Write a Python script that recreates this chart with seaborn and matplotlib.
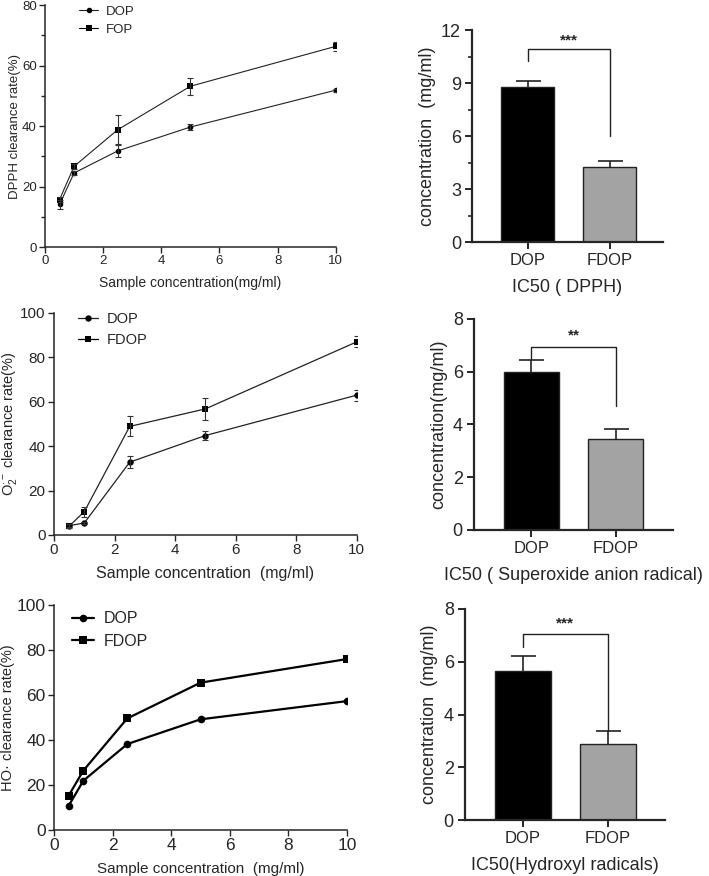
import numpy as np
import pandas as pd
import matplotlib
matplotlib.use("Agg")
import matplotlib.pyplot as plt
from matplotlib.lines import Line2D
from matplotlib.ticker import MultipleLocator
import seaborn as sns

# sample concentrations (mg/ml)
conc = [0.5, 1, 2.5, 5, 10]

# DPPH clearance rate (%)
dpph_dop = [14.1, 24.5, 31.8, 39.7, 51.9]
dpph_dop_err = [1.6, 0.8, 2.1, 1.0, 0.5]
dpph_fop = [15.7, 26.7, 38.8, 53.2, 66.4]
dpph_fop_err = [0.8, 0.8, 4.8, 2.8, 1.4]

# superoxide anion clearance rate (%)
o2_dop = [4.2, 5.4, 32.8, 44.8, 63.0]
o2_dop_err = [0.6, 0.6, 2.7, 2.2, 2.5]
o2_fdop = [4.0, 10.5, 48.9, 56.8, 87.0]
o2_fdop_err = [0.8, 2.3, 4.5, 4.9, 2.5]

# hydroxyl radical clearance rate (%)
ho_dop = [10.8, 21.9, 38.2, 49.2, 57.3]
ho_fdop = [15.3, 26.4, 49.6, 65.5, 76.0]

# IC50 values (mg/ml)
groups = ["DOP", "FDOP"]
ic50_dpph = [8.75, 4.26]
ic50_dpph_err = [0.38, 0.32]
ic50_o2 = [5.98, 3.45]
ic50_o2_err = [0.47, 0.37]
ic50_ho = [5.66, 2.88]
ic50_ho_err = [0.56, 0.51]

sns.set_theme(style="ticks")
plt.rcParams["font.family"] = ["Liberation Sans", "DejaVu Sans"]
plt.rcParams["mathtext.fontset"] = "custom"
plt.rcParams["mathtext.rm"] = "Liberation Sans"
plt.rcParams["mathtext.it"] = "Liberation Sans:italic"

fig = plt.figure(figsize=(7.09, 8.76), dpi=100)


def line_panel(rect, d1, e1, d2, e2, names, ylabel, xlabel, ymax, fs_tick, fs_lab,
               fs_ylab, fs_leg, lw, ms, cap, leg_anchor, color="#222222"):
    ax = fig.add_axes(rect)
    df = pd.DataFrame({"x": conc * 2, "y": d1 + d2,
                       "g": [names[0]] * 5 + [names[1]] * 5})
    sns.lineplot(data=df, x="x", y="y", hue="g", style="g",
                 markers={names[0]: "o", names[1]: "s"}, dashes=False,
                 palette=[color, "black"], markersize=ms, linewidth=lw,
                 markeredgewidth=0, legend=False, ax=ax)
    for ln in ax.lines:
        ln.set_markerfacecolor("black")
        ln.set_color(color)
    if e1 is not None:
        ax.errorbar(conc, d1, yerr=e1, fmt="none", ecolor="#333333",
                    elinewidth=0.8, capsize=cap, capthick=0.8)
        ax.errorbar(conc, d2, yerr=e2, fmt="none", ecolor="#333333",
                    elinewidth=0.8, capsize=cap, capthick=0.8)
    ax.set_xlim(0, 10)
    ax.set_ylim(0, ymax)
    ax.xaxis.set_major_locator(MultipleLocator(2))
    ax.yaxis.set_major_locator(MultipleLocator(20))
    ax.set_xlabel(xlabel, fontsize=fs_lab, labelpad=6)
    ax.set_ylabel(ylabel, fontsize=fs_ylab, labelpad=1)
    ax.tick_params(labelsize=fs_tick, length=4, width=1, pad=2)
    for s in ["left", "bottom"]:
        ax.spines[s].set_linewidth(1.1)
    sns.despine(ax=ax)
    handles = [Line2D([], [], color=color, lw=lw, marker="o", ms=ms, mfc="black", mew=0),
               Line2D([], [], color="black", lw=lw, marker="s", ms=ms, mfc="black", mew=0)]
    ax.legend(handles, names, loc="upper left", bbox_to_anchor=leg_anchor,
              frameon=False, fontsize=fs_leg, handlelength=1.4, handletextpad=0.6,
              labelspacing=0.45, borderaxespad=0)
    return ax


def bar_panel(rect, vals, errs, ylabel, xlabel, ymax, step, stars, br_top, br_left,
              br_right, star_y, xlim, fs_tick, fs_lab, minor=None):
    ax = fig.add_axes(rect)
    sns.barplot(x=groups, y=vals, hue=groups, palette=["black", "#a3a3a3"],
                width=0.65, edgecolor="#222222", linewidth=1.0, legend=False,
                ax=ax)
    eb = ax.errorbar([0, 1], vals, yerr=[[0, 0], errs], fmt="none", ecolor="#222222",
                     elinewidth=1.2, capsize=9, capthick=1.2)
    # keep only the upper cap
    eb[1][0].remove()
    ax.plot([0, 0, 1, 1], [br_left, br_top, br_top, br_right], color="#222222", lw=1.0)
    ax.text(0.5, star_y, stars, ha="center", va="center", fontsize=11,
            fontweight="bold")
    ax.set_xlim(*xlim)
    ax.set_ylim(0, ymax)
    ax.yaxis.set_major_locator(MultipleLocator(step))
    if minor:
        ax.yaxis.set_minor_locator(MultipleLocator(minor))
        ax.tick_params(axis="y", which="minor", length=3, width=1.2)
    ax.set_xlabel(xlabel, fontsize=fs_lab, labelpad=8)
    ax.set_ylabel(ylabel, fontsize=fs_lab, labelpad=4)
    ax.tick_params(axis="both", which="major", length=5, width=1.4, pad=3)
    ax.tick_params(axis="y", labelsize=fs_tick + 1)
    ax.tick_params(axis="x", labelsize=fs_tick)
    for s in ["left", "bottom"]:
        ax.spines[s].set_linewidth(1.6)
    sns.despine(ax=ax)
    return ax


# row 1
ax1 = line_panel([0.0635, 0.718, 0.41, 0.276], dpph_dop, dpph_dop_err, dpph_fop,
                 dpph_fop_err, ["DOP", "FOP"], "DPPH clearance rate(%)",
                 "Sample concentration(mg/ml)", 80, 9.5, 10, 9.5, 9.5, 0.8, 4.0, 2,
                 (0.1, 1.02))
ax1.yaxis.set_minor_locator(MultipleLocator(10))
ax1.tick_params(axis="y", which="minor", length=3, width=1)

bar_panel([0.666, 0.7237, 0.269, 0.242], ic50_dpph, ic50_dpph_err,
          "concentration  (mg/ml)", "IC50 ( DPPH)", 12, 3, "***",
          10.9, 10.25, 6.0, 11.4, (-0.677, 1.652), 12, 13, minor=1.5)

# row 2
line_panel([0.0762, 0.3893, 0.427, 0.2534], o2_dop, o2_dop_err, o2_fdop, o2_fdop_err,
           ["DOP", "FDOP"], r"O$_2^{\cdot-}$ clearance rate(%)",
           "Sample concentration  (mg/ml)", 100, 11, 11.5, 10.5, 10.5, 0.9, 4.6, 2.5,
           (0.06, 1.03))

bar_panel([0.6685, 0.395, 0.2807, 0.2409], ic50_o2, ic50_o2_err,
          "concentration(mg/ml)", "IC50 ( Superoxide anion radical)", 8, 2, "**",
          6.95, 6.47, 4.7, 7.36, (-0.680, 1.675), 12, 13)

# row 3
line_panel([0.0762, 0.0525, 0.4132, 0.2568], ho_dop, None, ho_fdop, None,
           ["DOP", "FDOP"], "HO· clearance rate(%)",
           "Sample concentration  (mg/ml)", 100, 12.5, 11, 10.5, 11.5, 1.6, 5.5, 0,
           (0.04, 1.0), color="black")

bar_panel([0.6558, 0.0639, 0.282, 0.2409], ic50_ho, ic50_ho_err,
          "concentration  (mg/ml)", "IC50(Hydroxyl radicals)", 8, 2, "***",
          7.05, 6.57, 3.39, 7.46, (-0.682, 1.67), 12, 13)

fig.savefig("out.png", dpi=100)
